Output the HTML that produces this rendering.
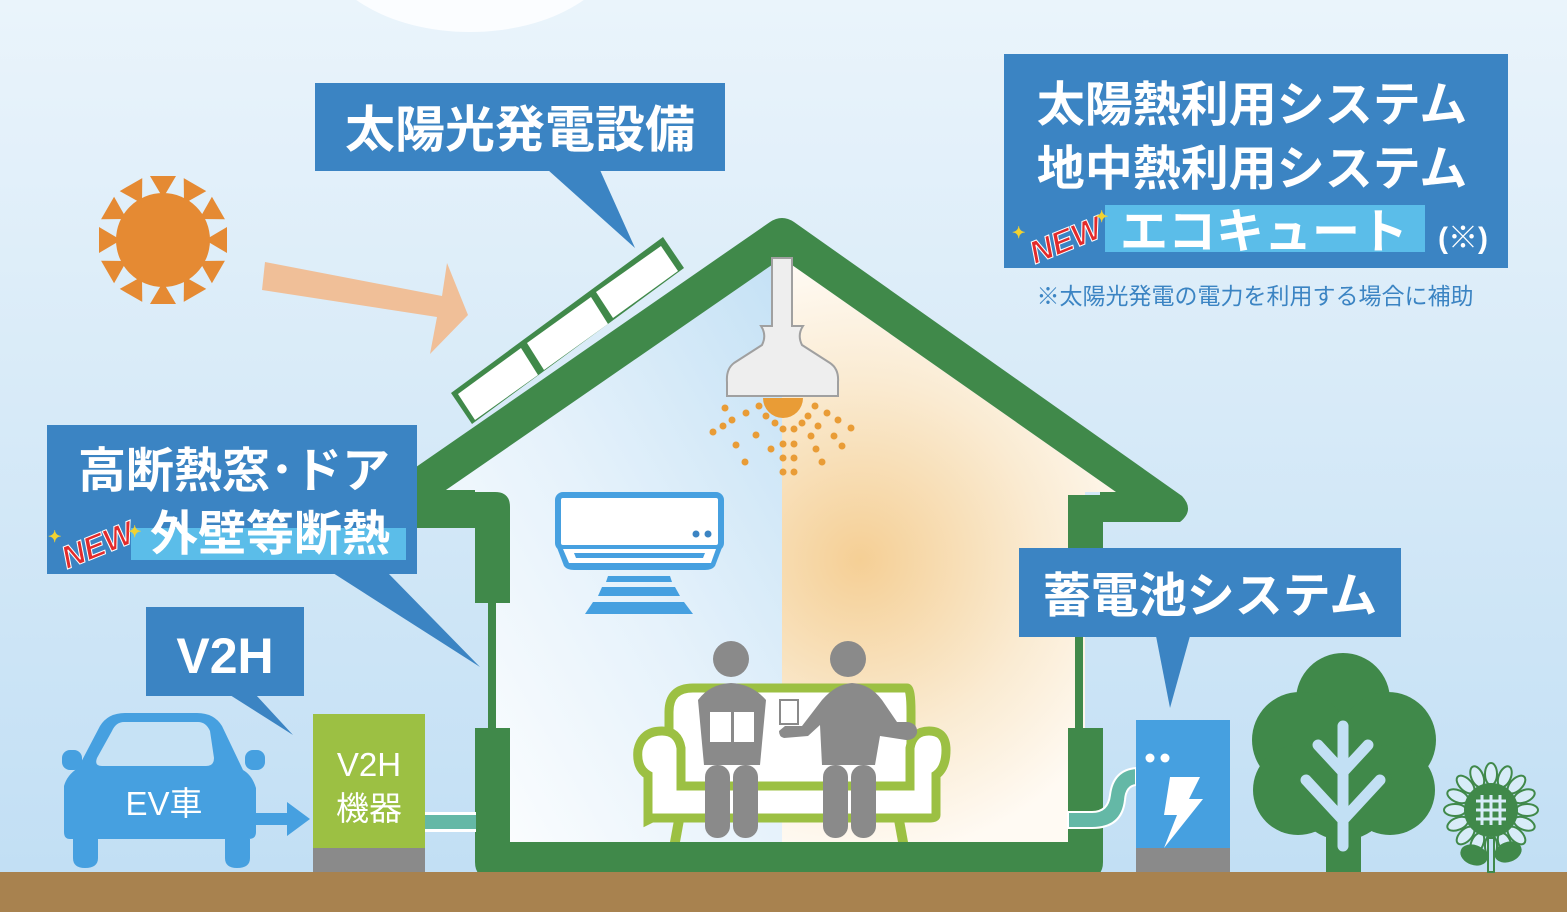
<!DOCTYPE html>
<html><head><meta charset="utf-8"><style>
html,body{margin:0;padding:0;}
body{width:1567px;height:912px;overflow:hidden;}
svg text{font-family:"Liberation Sans","Noto Sans CJK JP",sans-serif;font-weight:bold;}
</style></head><body>
<svg width="1567" height="912" viewBox="0 0 1567 912" xmlns="http://www.w3.org/2000/svg">
<defs>
<linearGradient id="sky" x1="0" y1="0" x2="0" y2="1">
<stop offset="0" stop-color="#eaf4fb"/><stop offset="1" stop-color="#c0def4"/></linearGradient>
<linearGradient id="cool" x1="0" y1="1" x2="1" y2="0">
<stop offset="0" stop-color="#ffffff"/><stop offset="0.5" stop-color="#e6f2fb"/><stop offset="1" stop-color="#c4e1f5"/></linearGradient>
<radialGradient id="warm" cx="860" cy="560" r="300" gradientUnits="userSpaceOnUse">
<stop offset="0" stop-color="#f5cf95"/><stop offset="0.6" stop-color="#faebd2"/><stop offset="1" stop-color="#fffaf3"/></radialGradient>
</defs>
<rect width="1567" height="912" fill="url(#sky)"/>
<ellipse cx="470" cy="-60" rx="150" ry="92" fill="#fbfdff"/>
<!-- sun -->
<g fill="#e58a33">
<circle cx="163" cy="240" r="47"/>
<polygon points="150,176 176,176 163,198" transform="rotate(0 163 240)"/>
<polygon points="150,176 176,176 163,198" transform="rotate(30 163 240)"/>
<polygon points="150,176 176,176 163,198" transform="rotate(60 163 240)"/>
<polygon points="150,176 176,176 163,198" transform="rotate(90 163 240)"/>
<polygon points="150,176 176,176 163,198" transform="rotate(120 163 240)"/>
<polygon points="150,176 176,176 163,198" transform="rotate(150 163 240)"/>
<polygon points="150,176 176,176 163,198" transform="rotate(180 163 240)"/>
<polygon points="150,176 176,176 163,198" transform="rotate(210 163 240)"/>
<polygon points="150,176 176,176 163,198" transform="rotate(240 163 240)"/>
<polygon points="150,176 176,176 163,198" transform="rotate(270 163 240)"/>
<polygon points="150,176 176,176 163,198" transform="rotate(300 163 240)"/>
<polygon points="150,176 176,176 163,198" transform="rotate(330 163 240)"/>
</g>
<!-- arrow -->
<polygon points="265,262 442,296 447,263 468,315 430,354 437,317 262,290" fill="#f0bf98"/>
<!-- interior -->
<polygon points="782,258 443,492 492,492 492,845 782,845" fill="url(#cool)"/>
<polygon points="782,258 1116,492 1085,492 1085,845 782,845" fill="url(#warm)"/>
<!-- house structure -->
<g fill="#40894a">
<path d="M380,492 L770,222 Q782,214 794,222 L1182,496 Q1195,510 1180,522 L1100,522 L1100,492 L1116,492 L782,258 L443,492 L406,492 Z"/>
<rect x="380" y="490" width="95" height="38"/>
<path d="M443,492 L495,492 Q510,492 510,507 L510,603 L475,603 L475,492 Z"/>
<rect x="488" y="603" width="8" height="125"/>
<path d="M475,728 L510,728 L510,842 L1068,842 L1068,728 L1103,728 L1103,862 Q1103,878 1087,878 L491,878 Q475,878 475,862 Z"/>
<rect x="1068" y="495" width="35" height="142"/>
<rect x="1075" y="637" width="8" height="91"/>
</g>
<!-- solar panels -->
<polygon points="451,393 663,237 684,268 472,424" fill="#40894a"/>
<g fill="#fff">
<polygon points="458,394 521,348 538,375 475,420"/>
<polygon points="527,343 591,297 608,324 544,370"/>
<polygon points="596,292 661,246 678,271 613,318"/>
</g>
<!-- lamp -->
<path d="M772,258 L772,326 L761,326 Q767,335 762,345 L734,363 Q726,369 727,382 L727,396 L838,396 L838,382 Q839,369 830,363 L802,345 Q797,335 803,326 L792,326 L792,258 Z" fill="#eeeeee" stroke="#a0a0a0" stroke-width="2"/>
<path d="M763,398 A20,20 0 0 0 803,398 Z" fill="#e99c36"/>
<g fill="#e99c36">
<circle cx="725" cy="408" r="3.5"/><circle cx="746" cy="413" r="3.5"/><circle cx="759" cy="406" r="3.5"/><circle cx="732" cy="420" r="3.5"/><circle cx="766" cy="416" r="3.5"/><circle cx="775" cy="423" r="3.5"/><circle cx="783" cy="429" r="3.5"/><circle cx="723" cy="426" r="3.5"/><circle cx="713" cy="432" r="3.5"/><circle cx="756" cy="435" r="3.5"/><circle cx="736" cy="445" r="3.5"/><circle cx="771" cy="449" r="3.5"/><circle cx="783" cy="444" r="3.5"/><circle cx="745" cy="462" r="3.5"/><circle cx="783" cy="458" r="3.5"/><circle cx="783" cy="472" r="3.5"/>
<circle cx="794" cy="429" r="3.5"/><circle cx="802" cy="423" r="3.5"/><circle cx="808" cy="416" r="3.5"/><circle cx="815" cy="406" r="3.5"/><circle cx="827" cy="413" r="3.5"/><circle cx="818" cy="426" r="3.5"/><circle cx="838" cy="420" r="3.5"/><circle cx="851" cy="428" r="3.5"/><circle cx="811" cy="436" r="3.5"/><circle cx="834" cy="436" r="3.5"/><circle cx="794" cy="444" r="3.5"/><circle cx="816" cy="449" r="3.5"/><circle cx="842" cy="446" r="3.5"/><circle cx="794" cy="458" r="3.5"/><circle cx="822" cy="462" r="3.5"/><circle cx="794" cy="472" r="3.5"/>
</g>
<!-- AC -->
<rect x="558" y="495" width="163" height="53" rx="5" fill="#fff" stroke="#46a0e0" stroke-width="6"/>
<path d="M556,545 L723,545 L715,566 Q712,570 705,570 L574,570 Q567,570 564,566 Z" fill="#46a0e0"/>
<path d="M563,549 L716,549 L711,563 L569,563 Z" fill="#fff"/>
<polygon points="574,553 705,553 703,558 576,558" fill="#46a0e0"/>
<circle cx="696" cy="534" r="3.5" fill="#3b84c3"/><circle cx="708" cy="534" r="3.5" fill="#3b84c3"/>
<g fill="#46a0e0"><polygon points="608,576 670,576 672,582 606,582"/><polygon points="602,587 675,587 680,596 598,596"/><polygon points="593,602 684,602 693,614 585,614"/></g>
<!-- sofa -->
<g stroke="#9cc043" stroke-width="9" fill="#fff">
<path d="M669,808 L669,712 Q669,688 693,688 L907,688 Q911,688 911,712 L911,808 Z"/>
<path d="M648,820 L648,775 Q636,768 638,750 Q642,731 662,731 Q678,731 681,748 L681,786 L910,786 L910,748 Q913,731 929,731 Q946,731 946,750 Q946,768 936,775 L936,815 Q936,818 930,818 L652,818 Z"/>
</g>
<g fill="#9cc043"><polygon points="674,820 684,820 680,842 670,842"/><polygon points="894,820 904,820 908,842 898,842"/></g>
<!-- people -->
<g fill="#8a8a8a">
<circle cx="731" cy="659" r="18"/>
<path d="M698,700 Q710,684 731,683 Q752,684 766,700 L760,765 L704,765 Z"/>
<rect x="705" y="765" width="25" height="73" rx="12"/><rect x="733" y="765" width="25" height="73" rx="12"/>
<circle cx="848" cy="659" r="18"/>
<path d="M822,700 Q836,684 852,683 Q870,684 882,700 L897,722 L908,722 Q918,724 917,733 Q915,740 906,740 L880,736 L875,765 L822,765 L820,725 L808,736 L784,738 Q779,737 779,731 L785,726 L802,726 Z"/>
<rect x="823" y="765" width="25" height="73" rx="12"/><rect x="851" y="765" width="25" height="73" rx="12"/>
</g>
<g fill="#fff"><rect x="710" y="712" width="21" height="30"/><rect x="734" y="712" width="20" height="30"/></g>
<rect x="780" y="700" width="18" height="24" fill="#fff" stroke="#8a8a8a" stroke-width="2"/>
<!-- ground -->
<rect x="0" y="872" width="1567" height="40" fill="#a8824f"/>
<!-- car -->
<g fill="#46a0e0">
<path d="M100,726 Q108,713 125,713 L197,713 Q214,713 222,726 L243,770 Q252,775 256,788 L256,832 Q256,839 249,839 L70,839 Q64,839 64,832 L64,786 Q67,775 78,768 Z"/>
<rect x="62" y="750" width="20" height="20" rx="8"/><rect x="245" y="750" width="20" height="20" rx="8"/>
<path d="M73,839 L98,839 L98,858 Q98,868 85,868 Q73,868 73,858 Z"/>
<path d="M225,839 L250,839 L250,858 Q250,868 237,868 Q225,868 225,858 Z"/>
<polygon points="250,813 287,813 287,802 310,819 287,836 287,825 250,825"/>
</g>
<path d="M112,731 Q116,722 124,722 L198,722 Q206,722 210,731 L214,758 Q214,766 206,766 L102,766 Q94,766 97,758 Z" fill="#c6e2f5"/>
<text x="164" y="815" font-size="33" fill="#fff" text-anchor="middle" style="font-weight:normal">EV車</text>
<!-- V2H box -->
<rect x="313" y="714" width="112" height="134" fill="#9cc043"/>
<rect x="313" y="848" width="112" height="24" fill="#8a8a8a"/>
<text x="369" y="776" font-size="33" fill="#fff" text-anchor="middle" style="font-weight:normal">V2H</text>
<text x="369" y="820" font-size="33" fill="#fff" text-anchor="middle" style="font-weight:normal">機器</text>
<rect x="425" y="812" width="51" height="20" fill="#fff"/>
<rect x="425" y="815" width="51" height="14" fill="#64b8a6"/>
<!-- battery -->
<path d="M1068,812 L1092,812 Q1108,812 1110,795 Q1113,770 1136,768 L1136,785 Q1126,786 1125,800 Q1122,828 1092,828 L1068,828 Z" fill="#64b8a6" stroke="#fff" stroke-width="2"/>
<rect x="1136" y="720" width="94" height="128" fill="#46a0e0"/>
<rect x="1136" y="848" width="94" height="24" fill="#8a8a8a"/>
<circle cx="1150" cy="758" r="4.5" fill="#fff"/><circle cx="1165" cy="758" r="4.5" fill="#fff"/>
<polygon points="1170,777 1200,777 1189,799 1203,799 1164,848 1177,815 1164,815" fill="#fff"/>
<!-- tree -->
<g fill="#40894a">
<circle cx="1343" cy="700" r="47"/><circle cx="1300" cy="740" r="48"/><circle cx="1388" cy="740" r="48"/><circle cx="1298" cy="790" r="45"/><circle cx="1390" cy="790" r="45"/><circle cx="1343" cy="790" r="50"/>
<rect x="1326" y="830" width="35" height="42"/>
</g>
<g stroke="#c2e0f4" stroke-width="11" stroke-linecap="round" fill="none">
<path d="M1343,726 L1343,846"/><path d="M1318,745 L1343,772 L1368,745"/><path d="M1306,780 L1343,820 L1380,780"/>
</g>
<!-- sunflower -->
<g transform="translate(1491,810)" fill="#d8ecf8" stroke="#40894a" stroke-width="2">
<g id="pet"><ellipse cx="0" cy="-36" rx="6" ry="11"/></g>
<use href="#pet" transform="rotate(22.5)"/><use href="#pet" transform="rotate(45)"/><use href="#pet" transform="rotate(67.5)"/><use href="#pet" transform="rotate(90)"/><use href="#pet" transform="rotate(112.5)"/><use href="#pet" transform="rotate(135)"/><use href="#pet" transform="rotate(157.5)"/><use href="#pet" transform="rotate(180)"/><use href="#pet" transform="rotate(202.5)"/><use href="#pet" transform="rotate(225)"/><use href="#pet" transform="rotate(247.5)"/><use href="#pet" transform="rotate(270)"/><use href="#pet" transform="rotate(292.5)"/><use href="#pet" transform="rotate(315)"/><use href="#pet" transform="rotate(337.5)"/>
<circle r="26" fill="#40894a"/>
<path d="M-9,-15 V15 M0,-15 V15 M9,-15 V15 M-15,-9 H15 M-15,0 H15 M-15,9 H15" stroke="#d8ecf8" stroke-width="3"/>
<rect x="-3" y="28" width="6" height="34" fill="#c2e0f4"/>
<ellipse cx="-17" cy="45" rx="13" ry="9" fill="#40894a" transform="rotate(20 -17 45)"/>
<ellipse cx="17" cy="42" rx="13" ry="9" fill="#40894a" transform="rotate(-20 17 42)"/>
</g>
<!-- callouts -->
<g fill="#3b84c3">
<rect x="315" y="83" width="410" height="88"/><polygon points="548,170 600,170 635,248"/>
<rect x="1004" y="54" width="504" height="214"/>
<rect x="47" y="425" width="370" height="149"/><polygon points="333,573 388,573 480,667"/>
<rect x="146" y="607" width="158" height="89"/><polygon points="230,695 256,695 293,735"/>
<rect x="1019" y="548" width="382" height="89"/><polygon points="1156,636 1190,636 1170,708"/>
</g>
<rect x="1105" y="205" width="320" height="47" fill="#5bbde9"/>
<rect x="131" y="528" width="275" height="32" fill="#5bbde9"/>
<g fill="#fff">
<text x="520" y="147" font-size="50" text-anchor="middle">太陽光発電設備</text>
<text x="1252" y="121" font-size="48" text-anchor="middle">太陽熱利用システム</text>
<text x="1252" y="185" font-size="48" text-anchor="middle">地中熱利用システム</text>
<text x="1264" y="248" font-size="48" text-anchor="middle">エコキュート</text>
<text x="1463" y="248" font-size="30" text-anchor="middle">(※)</text>
<text x="234" y="487" font-size="48" text-anchor="middle">高断熱窓･ドア</text>
<text x="270" y="550" font-size="48" text-anchor="middle">外壁等断熱</text>
<text x="225" y="673" font-size="50" text-anchor="middle">V2H</text>
<text x="1210" y="612" font-size="48" text-anchor="middle">蓄電池システム</text>
</g>
<g fill="#e32b2b" stroke="#fff" stroke-width="1" font-size="32" style="font-style:italic;font-weight:normal">
<text x="1026" y="252" transform="rotate(-22 1062 235)">NEW</text>
<text x="58" y="557" transform="rotate(-22 94 540)">NEW</text>
</g>
<g fill="#f2d230" font-size="16"><text x="1012" y="238">✦</text><text x="1095" y="222">✦</text><text x="48" y="542">✦</text><text x="128" y="537">✦</text></g>
<text x="1255" y="304" font-size="23" fill="#3b84c3" text-anchor="middle" style="font-weight:normal">※太陽光発電の電力を利用する場合に補助</text>
</svg>
</body></html>
